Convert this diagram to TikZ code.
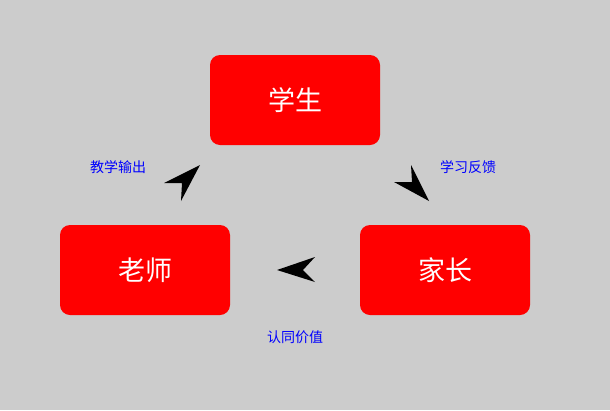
\documentclass[tikz,border=0pt]{standalone}
\usepackage{fontspec}
\newfontfamily\cjk{Noto Sans CJK SC}
\definecolor{bg}{HTML}{CCCCCC}
\begin{document}
\begin{tikzpicture}[x=1pt,y=-1pt,
  box/.style={fill=red,rounded corners=10pt,minimum width=170pt,minimum height=90pt,inner sep=0pt,text=white,font=\cjk\fontsize{27}{32}\selectfont},
  lbl/.style={text=blue,font=\cjk\fontsize{14}{16}\selectfont,inner sep=0pt},
  head/.style={fill=black}]
\fill[bg] (0,0) rectangle (610,410);
\useasboundingbox (0,0) rectangle (610,410);
\node[box] (stu) at (295,100) {学生};
\node[box] (tea) at (145,270) {老师};
\node[box] (par) at (445,270) {家长};
\node[lbl] (l1) at (118,167) {教学输出};
\node[lbl] (l2) at (468,167) {学习反馈};
\node[lbl] (l3) at (295,337) {认同价值};
\coordinate (a1) at (200,165);
\coordinate (a2) at (429,201);
\coordinate (a3) at (277,270);
\fill[head] (a1) -- (164,183) -- (182,183) -- (181,201) -- cycle;
\fill[head] (a2) -- (411,165) -- (412,182) -- (394,182) -- cycle;
\fill[head] (a3) -- (315,257) -- (303,270) -- (315,282) -- cycle;
\end{tikzpicture}
\end{document}
